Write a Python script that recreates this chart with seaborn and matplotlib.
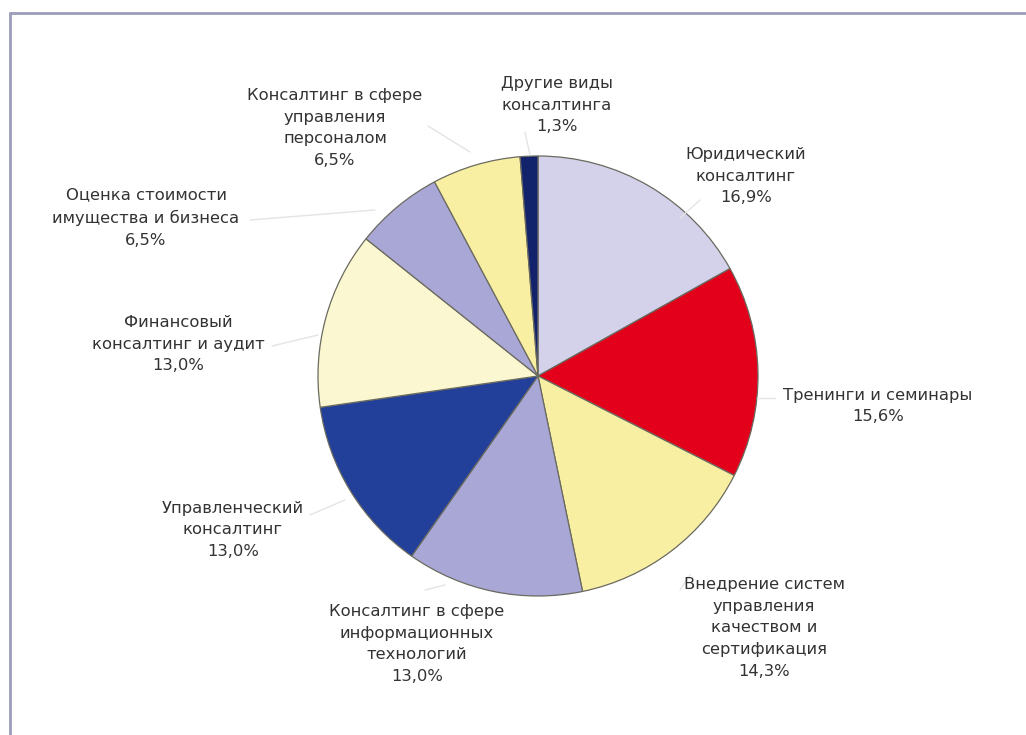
import matplotlib
matplotlib.use("Agg")
import matplotlib.pyplot as plt
import seaborn as sns
from matplotlib.lines import Line2D

sns.set_theme(style="white")
plt.rcParams['font.family'] = ['DejaVu Sans']

categories = [
    "Юридический\nконсалтинг",
    "Тренинги и семинары",
    "Внедрение систем\nуправления\nкачеством и\nсертификация",
    "Консалтинг в сфере\nинформационных\nтехнологий",
    "Управленческий\nконсалтинг",
    "Финансовый\nконсалтинг и аудит",
    "Оценка стоимости\nимущества и бизнеса",
    "Консалтинг в сфере\nуправления\nперсоналом",
    "Другие виды\nконсалтинга",
]
values = [16.9, 15.6, 14.3, 13.0, 13.0, 13.0, 6.5, 6.5, 1.3]
colors = ["#D4D2EB", "#E2001A", "#F8EFA2", "#A9A7D5", "#22409A",
          "#FBF7D0", "#A9A7D5", "#F8EFA2", "#13236B"]

# label anchor positions in pixel space (x, y from top) and leader line ends
label_pos = [(746, 176), (878, 406), (764, 628), (417, 644), (233, 530),
             (178, 344), (146, 218), (335, 128), (557, 105)]
leaders = [[(700, 200), (680, 218)], [(775, 398), (757, 398)], [(690, 575), (680, 590)],
           [(425, 590), (445, 585)], [(310, 515), (345, 500)], [(272, 346), (318, 335)],
           [(250, 220), (375, 210)], [(428, 126), (470, 152)], [(525, 132), (530, 155)]]

W, H = 1026, 735
fig = plt.figure(figsize=(W / 100, H / 100), dpi=100)
ax = fig.add_axes([0, 0, 1, 1])

cx, cy, r = 538, H - 376, 220
ax.pie(values, colors=colors, startangle=90, counterclock=False,
       center=(cx, cy), radius=r, frame=True,
       wedgeprops=dict(edgecolor="#6A6A60", linewidth=0.9))
ax.set_xlim(0, W)
ax.set_ylim(0, H)
ax.set_aspect("equal")
ax.axis("off")

for cat, val, (x, y), seg in zip(categories, values, label_pos, leaders):
    txt = cat + "\n" + f"{val:.1f}".replace(".", ",") + "%"
    ax.text(x, H - y, txt, ha="center", va="center", fontsize=11.8,
            color="#333333", linespacing=1.58)
    (x0, y0), (x1, y1) = seg
    ax.add_line(Line2D([x0, x1], [H - y0, H - y1], color="#E4E4E4", lw=1))

# frame (top and left edges)
ax.add_line(Line2D([10, W], [H - 13, H - 13], color="#9C9CBA", lw=2))
ax.add_line(Line2D([10, 10], [H - 13, 0], color="#9C9CBA", lw=2))

fig.savefig("out.png", dpi=100)
